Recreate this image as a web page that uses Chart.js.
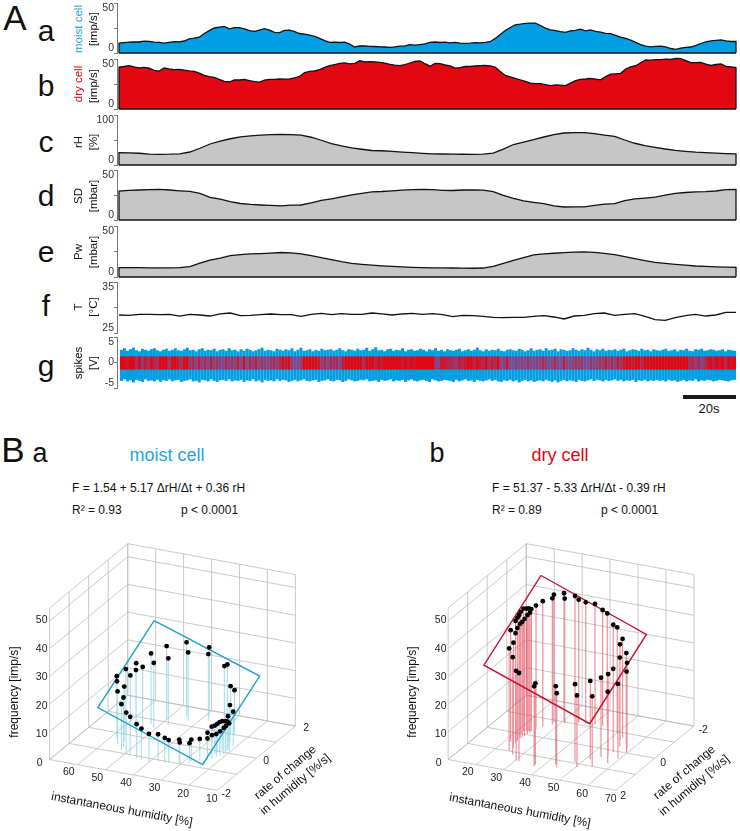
<!DOCTYPE html>
<html>
<head>
<meta charset="utf-8">
<title>moist and dry cell</title>
<script src="https://cdn.jsdelivr.net/npm/chart.js@4"></script>
<style>
  html, body { margin: 0; padding: 0; background: #fff; overflow: hidden; }
  #page { position: relative; width: 740px; height: 831px; font-family: "Liberation Sans", Arial, sans-serif; color: #111; }
  #page canvas { position: absolute; }
  .txt { position: absolute; white-space: nowrap; line-height: 1; }
  #scalebar { position: absolute; left: 683px; top: 395px; width: 53px; height: 4px; background: #1a1a1a; }
</style>
</head>
<body>
<div id="page"><div id="scalebar"></div></div>
<script>
// impulse frequency of the two cells [imp/s]
const moistCell = [10,10.4,10.9,11.2,11,11.9,11.6,10.9,10.6,9.9,10.6,11.3,11.2,12,14.2,14.9,15.8,19.5,22.4,25,25.8,26.6,24.2,25.4,25.3,24.2,22.4,21.6,22.9,24.3,22.9,20.6,20.4,22.6,22.8,21.3,19.5,18.9,17.8,16.6,14.6,12.3,10.6,10.9,10.5,10.8,8.9,6,7.2,7,6.7,
  6.5,6.2,6,5.7,6.1,6.9,7.2,8.4,7.8,8.4,9.1,10.6,11,10.5,10.9,10.2,10.7,9.9,9.7,9.8,10.3,10.2,10.6,11.3,14.6,18.5,22.5,25.5,28.2,28.8,29.6,29.9,29.9,27.5,24.9,23.2,22.4,21.4,20.6,22.2,22.6,23.8,22.2,23.1,21.6,20.8,19.6,19.3,17.6,15.9,14.6,12.9,10.6,8.4,6.8,6.2,6.6,6.9,6.1,4.5,3.6,4.9,5.6,6,7.6,9.5,11.2,12.1,12.7,13.2,12.2,11.5,11.6];
const dryCell = [42,42.5,43.4,42.1,41.2,41.6,40.9,38.6,37.9,41,40.1,39.4,39.6,38.9,38.1,37.6,35.9,33.6,32.4,31.6,29.6,27.7,27,29.1,29,29.5,28.4,27.3,26.9,28.9,29.6,29.7,30,29.9,30.1,31.2,32.6,36.3,37.6,38,39.3,41.6,43.3,44.4,45.6,46.1,45.2,45.6,48.2,47.2,47.4,
  47.2,46.6,45.9,44.6,43.8,43.3,44.3,46,47.5,48.2,45.3,42.8,45.5,45.4,44,43.2,40.8,41.4,42.6,42.5,43,43.3,43.5,43.2,41.9,37.6,33.6,32.1,30.6,29,27.6,25.9,25.3,25.4,24.4,23.3,24.1,23.8,23.4,25.9,28.4,29.6,30,30.6,29.9,29.2,32.4,34.8,35.2,35.7,40,42.2,43.3,46.3,49,48.8,49.4,49.3,49.8,49.5,50.6,50.4,48.4,46.3,46.4,46.7,44.8,43.5,44.5,45,42.7,42.2,41.4];

// climate traces
const relHumidity = [24.8,24.4,23.5,21.8,21.4,21.6,22.3,26,33.5,42,47.8,52.5,56.2,58.4,59.8,60.6,61.3,60.8,59.9,55.5,49.5,42.8,38.2,34.4,31.5,29,
  28.5,27.3,25.9,24.7,23.3,22.2,22,21.8,21.5,21.4,21.7,23.6,31.6,41,45.8,50.6,56,60.6,64,64.7,64.8,62.7,59.7,57.4,50,43.5,38.6,35.2,32,29.4,27.3,25.6,24.6,23.8,22.8,22.1];
const satDeficit = [29,29.6,30,30.4,30.7,30,29.2,28.6,26.7,22.6,20.9,18.4,16.5,15.6,15,14.6,14.2,14.8,15,17.2,19.6,21.2,23.2,25.2,26.6,28.2,
  28.5,29.2,29.9,30.3,30.7,30.3,29.6,29.5,30,30.2,29.8,28.4,24.6,21.6,19.2,17.7,16.3,14.2,13,13.2,13.2,14.6,15.8,16.4,19.4,21.1,21.9,22.8,24.8,26.6,27.5,28.2,28.4,29,30.4,30.5];
const vapourPressure = [9.2,9.2,9.1,9,8.9,8.9,9.2,10.2,13.5,16.6,18.4,20.9,21.9,22.6,23,23.5,24,23.7,22.7,21,19,17,15,13.4,12.4,11.6,
  11,10.4,9.9,9.5,9.2,9,8.9,8.8,8.7,8.6,8.8,10.4,13.3,16.2,19,21.6,22.6,23.3,23.8,24.4,24.7,24.1,23.2,22,20,18,16,14.4,13.3,12.4,11.6,10.8,10.4,10,9.7,9.5];
const temperature = [28.53,28.46,28.66,28.66,28.59,28.66,28.33,28.66,28.53,28.33,28.73,28.92,28.4,28.46,28.59,28.73,28.59,28.59,28.27,28.66,28.86,28.59,28.79,28.66,28.66,28.92,
  28.73,28.53,28.73,28.86,28.66,28.79,28.59,28.2,28.46,28.4,28.27,28.07,28,28.07,28.07,28.27,28.4,28.14,27.75,28.33,28.46,28.79,28.92,28.46,28.66,28.79,28.27,27.61,27.48,28,28.4,28.66,28.33,28.53,29.05,29.05];

// spike trace, one entry per 3 px bin [V]
const spikeTop = [2.5,2.8,2.3,2.6,2.9,2.4,2.2,2.7,2.5,2.3,2.6,2.8,2.4,2.2,2.5,2.7,2.3,2.5,2.8,2.4,2.3,2.6,2.9,2.4,2.5,2.2,2.6,2.8,2.3,2.5,2.4,2.7,2.2,2.5,2.6,2.3,2.8,2.4,2.5,2.2,
  2.6,2.3,2.7,2.5,2.2,2.4,2.6,2.9,2.3,2.5,2.4,2.2,2.7,2.5,2.3,2.6,2.4,2.8,2.2,2.5,2.9,2.3,2.4,2.6,2.2,2.5,2.3,2.7,2.4,2.5,
  2.6,2.3,2.5,2.8,2.4,2.2,2.6,2.5,2.3,2.7,2.4,2.5,2.9,2.3,2.6,3,2.4,2.5,2.2,2.6,2.7,2.3,2.5,2.4,2.8,2.2,2.5,2.6,2.3,2.4,2.7,2.5,2.2,2.6,2.4,2.8,2.3,2.5,2.2,2.6,
  2.4,2.3,2.5,2.7,2.2,2.4,2.6,2.3,2.5,2.9,2.4,2.2,2.6,2.3,2.5,2.4,2.7,2.3,2.2,2.5,2.6,2.4,2.3,2.7,2.5,2.2,2.4,2.8,2.3,2.5,
  2.6,2.3,2.8,2.4,2.5,2.7,2.2,2.6,2.5,2.3,2.4,2.8,2.5,2.3,2.6,2.4,2.9,2.5,2.2,2.6,2.4,2.7,2.3,2.5,2.4,2.6,2.3,2.5,2.7,2.2,2.4,2.6,2.5,2.3,2.7,2.4,2.5,2.2,2.6,2.4,
  2.3,2.5,2.7,2.3,2.4,2.6,2.2,2.5,2.4,2.7,2.3,2.2,2.6,2.5,2.7,2.3,2.4,2.6,2.5,2.3,2.4,2.6,2.2,2.5,2.4,2.3];
const spikeBottom = [-3.6,-3.3,-3.7,-3.5,-3.9,-3.4,-3.6,-3.8,-3.3,-3.6,-3.5,-3.7,-3.4,-3.8,-3.5,-3.6,-3.3,-3.7,-3.5,-3.4,-3.8,-3.6,-3.5,-3.3,-3.7,-3.6,-3.9,-3.4,-3.5,-3.7,-3.3,-3.6,-3.8,-3.5,-3.4,-3.6,-3.3,-3.7,-3.5,-3.6,
  -3.4,-3.8,-3.5,-3.6,-3.3,-3.7,-3.5,-3.9,-3.4,-3.6,-3.5,-3.7,-3.3,-3.6,-3.4,-3.5,-3.8,-3.6,-3.4,-3.7,-3.5,-3.3,-3.6,-3.7,-3.5,-3.4,-3.8,-3.6,-3.5,-3.3,
  -3.6,-3.7,-3.4,-3.5,-3.8,-3.6,-3.3,-3.5,-3.7,-3.6,-3.4,-3.5,-3.3,-3.7,-3.6,-3.5,-3.8,-3.4,-3.6,-3.5,-3.3,-3.7,-3.5,-3.6,-3.4,-3.8,-3.5,-3.3,-3.6,-3.7,
  -3.5,-3.4,-3.6,-3.8,-3.3,-3.5,-3.7,-3.6,-3.4,-3.5,-3.6,-3.8,-3.4,-3.7,-3.5,-3.3,-3.6,-3.5,-3.8,-3.4,-3.6,-3.7,-3.5,-3.3,-3.6,-3.4,-3.7,-3.8,-3.5,-3.6,-3.4,-3.7,-3.5,-3.9,-3.6,-3.4,-3.7,-3.5,-3.8,-3.6,
  -3.5,-3.7,-3.4,-3.6,-3.8,-3.5,-3.9,-3.6,-3.4,-3.7,-3.5,-3.6,-3.8,-3.4,-3.6,-3.7,-3.5,-3.3,-3.6,-3.4,-3.5,-3.7,-3.4,-3.6,-3.5,-3.3,-3.6,-3.4,-3.7,-3.5,-3.6,-3.4,-3.8,-3.5,-3.6,-3.4,-3.7,-3.5,-3.6,-3.4,
  -3.6,-3.5,-3.7,-3.4,-3.6,-3.5,-3.8,-3.6,-3.4,-3.7,-3.5,-3.6,-3.3,-3.7,-3.5,-3.6,-3.4,-3.5,-3.7,-3.6,-3.4,-3.5,-3.6,-3.7,-3.5,-3.4];
// how densely the red (large) spikes fill each bin, 0-9
const redSpikes = [9,9,8,9,9,6,9,5,8,6,9,7,6,9,9,9,5,9,9,8,
  6,9,9,5,7,4,8,4,7,3,8,4,6,5,3,7,5,6,4,8,
  3,9,2,7,5,8,4,6,5,4,6,7,5,7,9,8,9,5,3,4,
  5,9,9,9,9,9,8,5,7,4,
  7,6,7,3,8,9,9,9,9,9,9,6,9,9,9,7,9,8,9,9,
  9,9,9,9,8,9,8,9,8,9,9,9,9,9,9,5,4,8,8,7,
  7,6,5,8,7,8,9,9,7,9,8,7,9,6,8,7,9,3,5,8,
  3,2,5,3,5,3,6,4,3,5,
  4,7,5,3,4,7,3,2,8,4,3,5,6,5,6,3,2,6,4,5,
  6,5,8,5,7,4,8,6,8,9,9,8,9,9,7,9,9,9,9,9,
  9,9,9,9,9,9,9,9,9,9,6,7,5,7,4,6,8,9,7,9,
  8,9,6,9,8,9];
const redRange = [-1.4, 1.2];

// B a: moist cell
const moistHumidity = [58.3,57.4,55.6,54.6,53,52.4,49.7,48,45,43,40.1,37.6,35.2,33.8,31,30.4,27.7,27.8,25.6,24.6,23.7,23,24.5,23.8,23.5,23.1,22.6,21.7,21.1,20.4,20.8,21,21.5,22,21.9,21.2,23.2,24.5,26.2,30.7,31.2,38.4,37.5,45.3,43.2,50,47.5,52.9,50.6,52.9,55.3,54.2,54.8,57.1];
const moistRate = [-0.23,-0.35,-0.58,-0.38,-0.65,-0.84,-0.98,-1.02,-1.12,-1.16,-1.19,-1.08,-1.08,-1.08,-0.94,-1,-0.89,-0.78,-0.66,-0.41,-0.54,-0.41,-0.21,-0.15,-0.07,0,0.06,0.1,0.12,0.1,-0.01,-0.09,-0.21,-0.33,0.25,0.42,0.54,0.96,1,1.48,1.4,1.65,1.48,1.48,1.26,1.13,0.86,0.75,0.56,0.32,0.33,0.16,-0.04,0.06];
const moistFreq = [22,21,19,19.8,17.7,16.5,14.8,13.8,12.3,11.3,10.1,9.8,8.9,8.4,8.3,7.7,7.3,7.9,7.9,8.9,7.7,8.3,9.9,10.1,10.3,10.6,10.7,10.6,10.4,10.1,9.7,9.4,8.8,8.4,11.5,12.3,13.6,16.3,17.2,21.4,21.2,25.2,23.9,26.7,24.7,26.5,24.1,25.5,23.6,23.1,24,22.7,21.8,23.1];
const moistPlane = [[57.6,1.58,31.7],[20.1,1.62,18.4],[20.6,-1.23,2.9],[58.2,-1.22,16.4]];

// B b: dry cell
const dryHumidity = [24.8,25.9,28,27.8,30.3,31.3,33.6,35.2,37.5,40.2,43.2,45,48.4,49.9,53.2,53.4,56.5,55.5,58.3,59.6,55.6,55.1,53.8,51.5,54.5,59.3,57.9,50.3,48,44.6,43.2,37.3,37.5,31.3,30.2,27.1,24.7,24.9,23.9,22.1,21.9,23.6,23.6,23.8,24,24.1,24.4,24.2,23.4,22.8,22,21.8,21.9,21.9];
const dryRate = [-0.38,-0.57,-0.76,-0.87,-1.03,-0.92,-1.12,-1.08,-1.11,-1.2,-1.16,-1.14,-0.96,-0.95,-0.75,-0.59,-0.47,-0.28,-0.25,-0.04,0.07,0.26,0.44,0.66,0.99,0.36,0.68,1.17,0.94,1.39,1.24,1.44,1.53,1.42,1.41,1.14,0.98,0.79,0.54,0.53,0.25,0.4,0.26,0.18,0.09,-0.04,-0.13,-0.23,-0.21,-0.18,-0.14,-0.03,0.07,0.15];
const dryFreq = [44.5,45.2,45.5,46.2,46.2,45.1,45.3,44.5,43.8,43.2,41.8,41,38.6,38,35.6,34.6,32.7,32,30.8,29.1,30,29.1,28.6,28.3,25.2,26.9,25.7,25.8,28.1,26.8,28.2,29.3,28.8,31.8,32.3,35.1,36.9,37.9,39.7,40.4,42.1,40.7,41.4,41.7,42.3,42.9,43.3,44,44.2,44.2,44.3,43.7,43.2,42.7];
const dryPlane = [[21.3,-1.14,50.3],[58.8,-1.17,35.8],[58.3,1.66,19.9],[20.7,1.7,34.3]];

// axes of the 3d plots
const humidityTicks = [10,20,30,40,50,60,70];
const rateTicks = [-2,-1,0,1,2];
const rateLabels = [-2,0,2];
const freqTicks = [0,10,20,30,40,50];
const freqTop = 54.7;

const BLUE = '#009fe3', RED = '#e30613', GREY = '#c6c6c6';
const page = document.getElementById('page');

function text(str, x, y, size, opts) {
  opts = opts || {};
  const el = document.createElement('span');
  el.className = 'txt';
  el.textContent = str;
  el.style.left = x + 'px';
  el.style.top = y + 'px';
  el.style.fontSize = size + 'px';
  if (opts.color) el.style.color = opts.color;
  const anchor = opts.left ? 'translate(0,-50%)' : 'translate(-50%,-50%)';
  el.style.transform = anchor + (opts.rot ? ' rotate(' + opts.rot + 'deg)' : '');
  page.appendChild(el);
  return el;
}

function addCanvas(left, top, w, h) {
  const c = document.createElement('canvas');
  c.width = w; c.height = h;
  c.style.left = left + 'px';
  c.style.top = top + 'px';
  c.style.width = w + 'px';
  c.style.height = h + 'px';
  page.appendChild(c);
  return c;
}

// y axis of a trace panel: bracket with three ticks, end labels pushed inwards
function bracketAxis(min, max, labels) {
  return {
    min: min, max: max,
    afterFit: s => { s.width = 20; s.paddingTop = 0; s.paddingBottom = 0; },
    border: { color: '#777', width: 1 },
    grid: { drawOnChartArea: false, drawTicks: true, tickLength: 3, color: '#777' },
    ticks: {
      stepSize: (max - min) / 2,
      autoSkip: false, padding: 0, color: '#333',
      font: { family: '"Liberation Sans Narrow","Liberation Sans",Arial', size: 10.5, lineHeight: 1 },
      callback: (v, i) => {
        if (i === 0) return [labels[0], ''];
        if (i === 2) return ['', labels[2]];
        return labels[1];
      }
    }
  };
}

function tracePanel(top, bottom, min, max, labels, series, color) {
  const n = series.length - 1;
  const pts = series.map((v, i) => ({ x: i, y: v }));
  const datasets = [];
  if (color) {
    // outline goes down both ends and along the base of the filled area
    pts.unshift({ x: 0, y: min });
    pts.push({ x: n, y: min });
    datasets.push({ data: [{ x: 0, y: min }, { x: n, y: min }], showLine: true, pointRadius: 0, clip: false, borderColor: '#111', borderWidth: 1.3, order: 1 });
  }
  datasets.push({
    data: pts, showLine: true, pointRadius: 0, tension: 0, clip: false, order: 2,
    borderColor: '#111', borderWidth: 1.3,
    fill: color ? 'origin' : false, backgroundColor: color || 'transparent'
  });
  new Chart(addCanvas(97, top - 2, 641, bottom - top + 4), {
    type: 'scatter',
    data: { datasets: datasets },
    options: {
      responsive: false, animation: false, events: [],
      layout: { padding: { top: 2, bottom: 2, left: 0, right: 2 } },
      plugins: { legend: { display: false }, tooltip: { enabled: false } },
      scales: {
        x: { display: false, min: -2 * n / 617, max: n },
        y: bracketAxis(min, max, labels)
      }
    }
  });
}

function mixColour(d) {
  // purple where red and blue spikes alternate, pure red where they fill the bin
  const t = d / 9;
  const r = Math.round(110 + (227 - 110) * t * t);
  const g = Math.round(85 + (6 - 85) * t * t);
  const b = Math.round(165 + (19 - 165) * t * t);
  return 'rgb(' + r + ',' + g + ',' + b + ')';
}

function spikePanel(top, bottom) {
  const labels = [''].concat(spikeTop.map((v, i) => i));
  new Chart(addCanvas(97, top - 2, 641, bottom - top + 4), {
    type: 'bar',
    data: {
      labels: labels,
      datasets: [
        { data: [null].concat(redSpikes.map(() => redRange)), backgroundColor: [null].concat(redSpikes.map(mixColour)), order: 1 },
        { data: [null].concat(spikeTop.map((v, i) => [spikeBottom[i], v])), backgroundColor: BLUE, order: 2 }
      ]
    },
    options: {
      responsive: false, animation: false, events: [],
      layout: { padding: { top: 2, bottom: 2, left: 0, right: 2 } },
      plugins: { legend: { display: false }, tooltip: { enabled: false } },
      datasets: { bar: { barPercentage: 1.02, categoryPercentage: 1, grouped: false, borderWidth: 0 } },
      scales: {
        x: { display: false },
        y: bracketAxis(-5, 5, ['-5', '0', '5'])
      }
    }
  });
}

// 3d plots are an orthographic view: each value triple goes through project()
function cubePlot(cfg) {
  const W = 345, H = 301;
  const project = (h, r, f) => {
    const u = cfg.flip ? h - 10 : 70 - h;
    const v = cfg.flip ? 2 - r : r + 2;
    return {
      x: cfg.ox + 2.86 * u + 20 * v,
      y: 231.67 + 0.528 * u - 16.5 * v - 2.847 * f
    };
  };
  const hWall = cfg.flip ? 10 : 70;   // humidity at the rear left wall
  const rWall = cfg.flip ? -2 : 2;    // rate at the rear right wall
  const hFront = cfg.flip ? 70 : 10;
  const rFront = -rWall;
  const gap = { x: NaN, y: NaN };

  const grid = [];
  const seg = (a, b) => grid.push(project(a[0], a[1], a[2]), project(b[0], b[1], b[2]), gap);
  humidityTicks.forEach(h => {
    seg([h, rFront, 0], [h, rWall, 0]);
    seg([h, rWall, 0], [h, rWall, freqTop]);
  });
  rateTicks.forEach(r => {
    seg([hWall, r, 0], [hFront, r, 0]);
    seg([hWall, r, 0], [hWall, r, freqTop]);
  });
  freqTicks.concat([freqTop]).forEach(f => {
    seg([hWall, rFront, f], [hWall, rWall, f]);
    seg([hWall, rWall, f], [hFront, rWall, f]);
  });

  const stems = [];
  cfg.humidity.forEach((h, i) => {
    stems.push(project(h, cfg.rate[i], 0), project(h, cfg.rate[i], cfg.freq[i]), gap);
  });
  const dots = cfg.humidity.map((h, i) => project(h, cfg.rate[i], cfg.freq[i]));
  const plane = cfg.plane.concat([cfg.plane[0]]).map(p => project(p[0], p[1], p[2]));

  new Chart(addCanvas(cfg.left, 530, W, H), {
    type: 'scatter',
    data: { datasets: [
      { data: dots, pointRadius: 2.4, pointBackgroundColor: '#000', pointBorderWidth: 0, showLine: false, order: 1 },
      { data: plane, showLine: true, pointRadius: 0, borderColor: cfg.color, borderWidth: 1.4, order: 2 },
      { data: stems, showLine: true, pointRadius: 0, borderColor: cfg.stem, borderWidth: 1.2, order: 3 },
      { data: grid, showLine: true, pointRadius: 0, borderColor: '#bdbdbd', borderWidth: 0.8, order: 4 }
    ] },
    options: {
      responsive: false, animation: false, events: [],
      layout: { padding: 0 },
      plugins: { legend: { display: false }, tooltip: { enabled: false } },
      scales: {
        x: { display: false, min: 0, max: W },
        y: { display: false, min: 0, max: H, reverse: true }
      }
    }
  });

  // tick labels hang off the projected tick positions
  freqTicks.forEach(f => {
    const p = project(hWall, rFront, f);
    text(String(f), cfg.left + p.x - (f === 0 ? 7 : 5), 530 + p.y, 10.5, { color: '#222' });
  });
  humidityTicks.forEach(h => {
    if (h === hWall) return;
    const p = project(h, rFront, 0);
    text(String(h), cfg.left + p.x - 6.5, 530 + p.y + 4.5, 10.5, { color: '#222' });
  });
  rateLabels.forEach(r => {
    const p = project(hFront, r, 0);
    text(String(r), cfg.left + p.x + cfg.rateDx, 530 + p.y + cfg.rateDy, 10.5, { color: '#222' });
  });
}

// --- panel A ---
tracePanel(3, 53, 0, 50, ['0', '', '50'], moistCell, BLUE);
tracePanel(59, 109, 0, 50, ['0', '', '50'], dryCell, RED);
tracePanel(115, 165, 0, 100, ['0', '', '100'], relHumidity, GREY);
tracePanel(170, 220, 0, 50, ['0', '', '50'], satDeficit, GREY);
tracePanel(226, 277, 0, 50, ['0', '', '50'], vapourPressure, GREY);
tracePanel(282, 333, 25, 35, ['25', '', '35'], temperature, null);
spikePanel(337, 388);

text('A', 15, 17, 35);
[['a', 46, 31], ['b', 46, 86], ['c', 46, 142], ['d', 46, 196], ['e', 46, 252], ['f', 46, 306], ['g', 46, 366]].forEach(l => text(l[0], l[1], l[2], 30));

text('moist cell', 79, 29, 11.5, { rot: -90, color: '#27a3dc' });
text('[imp/s]', 94, 28.5, 11.5, { rot: -90 });
text('dry cell', 79, 84, 11.5, { rot: -90, color: RED });
text('[imp/s]', 94, 86, 11.5, { rot: -90 });
text('rH', 79, 142, 11.5, { rot: -90 });
text('[%]', 94, 142, 11.5, { rot: -90 });
text('SD', 79, 196, 11.5, { rot: -90 });
text('[mbar]', 94, 196, 11.5, { rot: -90 });
text('Pw', 79, 252, 11.5, { rot: -90 });
text('[mbar]', 94, 252, 11.5, { rot: -90 });
text('T', 79, 307, 11.5, { rot: -90 });
text('[°C]', 94, 307, 11.5, { rot: -90 });
text('spikes', 79, 363, 11.5, { rot: -90 });
text('[V]', 94, 363, 11.5, { rot: -90 });
text('20s', 709, 408, 13);

// --- panel B ---
text('B', 13, 449, 35);
text('a', 40, 453, 27);
text('b', 437, 453, 27);
text('moist cell', 167, 455, 18, { color: '#27a3dc' });
text('dry cell', 560, 455, 18, { color: RED });
text('F = 1.54 + 5.17 ΔrH/Δt + 0.36 rH', 72, 488, 12, { left: true });
text('R² = 0.93', 72, 510, 12, { left: true });
text('p < 0.0001', 181, 510, 12, { left: true });
text('F = 51.37 - 5.33 ΔrH/Δt - 0.39 rH', 492, 488, 12, { left: true });
text('R² = 0.89', 492, 510, 12, { left: true });
text('p < 0.0001', 601, 510, 12, { left: true });

cubePlot({ left: 0, ox: 46.67, flip: false, humidity: moistHumidity, rate: moistRate, freq: moistFreq, plane: moistPlane,
  color: '#1f9fd0', stem: 'rgba(120,205,225,0.6)', rateDx: 8, rateDy: 0 });
cubePlot({ left: 380, ox: 65.67, flip: true, humidity: dryHumidity, rate: dryRate, freq: dryFreq, plane: dryPlane,
  color: '#c8102e', stem: 'rgba(225,70,85,0.6)', rateDx: 6, rateDy: 2 });

text('frequency [imp/s]', 14, 692, 12, { rot: -90 });
text('instantaneous humidity [%]', 122, 809, 12, { rot: 10.5 });
text('rate of change', 285, 772, 12, { rot: -40 });
text('in humidity [%/s]', 295, 784, 12, { rot: -40 });
text('frequency [imp/s]', 412, 692, 12, { rot: -90 });
text('instantaneous humidity [%]', 520, 810, 12, { rot: 10.5 });
text('rate of change', 684, 772, 12, { rot: -40 });
text('in humidity [%/s]', 694, 785, 12, { rot: -40 });
</script>
</body>
</html>
